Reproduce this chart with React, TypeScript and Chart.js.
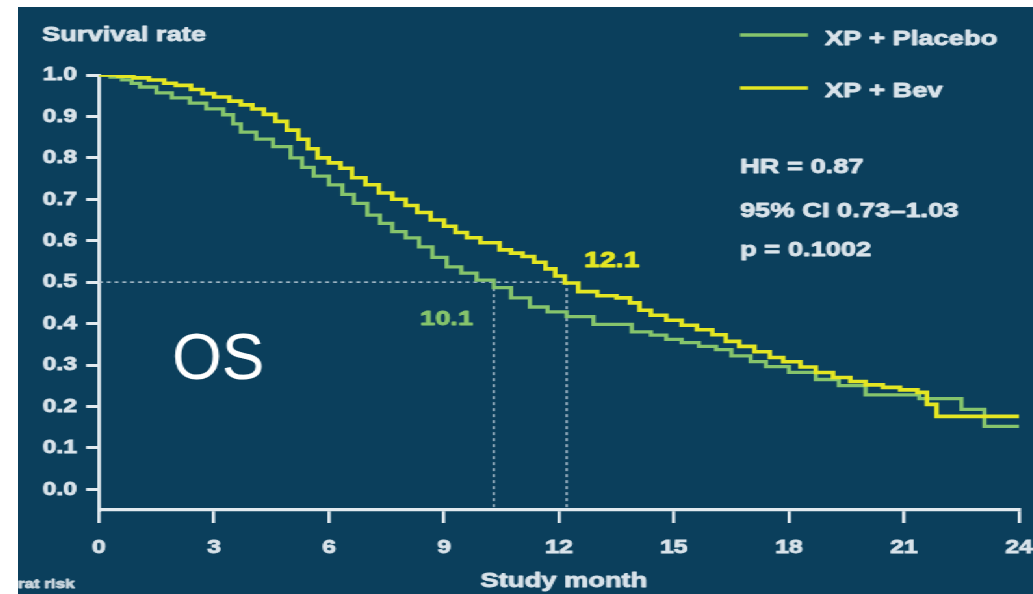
import React, { useEffect, useRef } from 'react';
import { Chart, registerables } from 'chart.js';

Chart.register(...registerables);

// ---- Data ----
const seriesNames = ['XP + Placebo', 'XP + Bev'];

const bevMonths = [
  0, 0.5, 0.9, 1.3, 1.7, 2.0, 2.4, 2.7, 3.0, 3.4, 3.7, 4.0, 4.3, 4.6, 4.9, 5.2, 5.45, 5.7,
  6.0, 6.3, 6.6, 6.95, 7.3, 7.65, 8.0, 8.3, 8.65, 9.0, 9.3, 9.6, 9.95, 10.45, 10.75, 11.05,
  11.35, 11.65, 11.9, 12.15, 12.5, 13.0, 13.5, 13.85, 14.1, 14.4, 14.8, 15.2, 15.6, 16.0,
  16.35, 16.7, 17.1, 17.5, 17.85, 18.3, 18.7, 19.15, 19.6, 20.0, 20.45, 20.9, 21.35, 21.6,
  21.85, 24.0,
];
const bevSurvival = [
  1.0, 0.997, 0.993, 0.988, 0.98, 0.975, 0.965, 0.955, 0.947, 0.937, 0.928, 0.918, 0.905,
  0.888, 0.867, 0.845, 0.822, 0.8, 0.788, 0.775, 0.752, 0.735, 0.715, 0.7, 0.685, 0.668,
  0.65, 0.635, 0.62, 0.607, 0.595, 0.578, 0.57, 0.562, 0.548, 0.532, 0.515, 0.498, 0.477,
  0.467, 0.462, 0.45, 0.432, 0.42, 0.408, 0.396, 0.385, 0.373, 0.357, 0.345, 0.332, 0.318,
  0.308, 0.295, 0.282, 0.27, 0.26, 0.252, 0.246, 0.24, 0.234, 0.205, 0.176, 0.176,
];

const placeboMonths = [
  0, 0.3, 0.6, 0.85, 1.07, 1.5, 1.9, 2.37, 2.8, 3.24, 3.5, 3.7, 4.1, 4.54, 5.0, 5.3, 5.6,
  6.0, 6.35, 6.65, 7.0, 7.33, 7.65, 8.0, 8.35, 8.7, 9.07, 9.45, 9.85, 10.3, 10.75, 11.24,
  11.7, 12.2, 12.9, 13.9, 14.4, 14.8, 15.2, 15.65, 16.1, 16.5, 17.0, 17.4, 18.0, 18.7, 19.3,
  20.0, 21.4, 22.5, 23.1, 24.0,
];
const placeboSurvival = [
  1.0, 0.995, 0.988, 0.98, 0.971, 0.957, 0.945, 0.932, 0.918, 0.904, 0.882, 0.862, 0.845,
  0.827, 0.8, 0.777, 0.756, 0.735, 0.712, 0.69, 0.662, 0.642, 0.622, 0.607, 0.585, 0.56,
  0.537, 0.522, 0.505, 0.487, 0.462, 0.44, 0.428, 0.417, 0.398, 0.38, 0.372, 0.362, 0.354,
  0.345, 0.337, 0.322, 0.308, 0.296, 0.282, 0.265, 0.25, 0.228, 0.219, 0.193, 0.152, 0.152,
];

const xTicks = [0, 3, 6, 9, 12, 15, 18, 21, 24];
const yTicks = [0.0, 0.1, 0.2, 0.3, 0.4, 0.5, 0.6, 0.7, 0.8, 0.9, 1.0];
const yMin = -0.05;
const medianLevel = 0.5;
const medianMonths = [10.3, 12.2];
const medianLabels = ['10.1', '12.1'];
const statsLines = ['HR = 0.87', '95% CI 0.73\u20131.03', 'p = 0.1002'];

// ---- Styling ----
const S = 1.3; // horizontal stretch of the original slide
const CW = 781;
const CH = 587;
const BG = '#0b3f5c';
const AX = '#e2eaef';
const TX = '#d9e3ea';
const YELLOW = '#e4e623';
const GREEN = '#86c46c';
const DASH = '#b4c6d2';
const FAMILY = '"Liberation Sans", Arial, Helvetica, sans-serif';

function boldText(ctx: CanvasRenderingContext2D, t: string, x: number, y: number, color: string) {
  ctx.fillStyle = color;
  ctx.strokeStyle = color;
  ctx.lineWidth = 0.9;
  ctx.lineJoin = 'round';
  ctx.strokeText(t, x, y);
  ctx.fillText(t, x, y);
}

const annotationPlugin = {
  id: 'annotations',
  afterDraw(chart: any) {
    const ctx = chart.ctx as CanvasRenderingContext2D;
    ctx.save();
    ctx.textBaseline = 'middle';
    ctx.textAlign = 'left';

    // y title
    ctx.font = `bold 21px ${FAMILY}`;
    boldText(ctx, 'Survival rate', 18.5, 28.5, TX);

    // legend
    const legendColors = [GREEN, YELLOW];
    const legendY = [[28, 32.5], [81, 84]];
    seriesNames.forEach((name, i) => {
      ctx.strokeStyle = legendColors[i];
      ctx.lineWidth = 3.5;
      ctx.beginPath();
      ctx.moveTo(555.4, legendY[i][0]);
      ctx.lineTo(607.7, legendY[i][0]);
      ctx.stroke();
      ctx.font = `bold 21px ${FAMILY}`;
      boldText(ctx, name, 620.8, legendY[i][1], TX);
    });

    // stats
    const statY = [160, 204, 243];
    statsLines.forEach((t, i) => {
      ctx.font = `bold 21px ${FAMILY}`;
      boldText(ctx, t, 555.4, statY[i], TX);
    });

    // median labels
    ctx.font = `bold 22px ${FAMILY}`;
    boldText(ctx, medianLabels[1], 435.4, 254, YELLOW);
    ctx.font = `bold 21px ${FAMILY}`;
    boldText(ctx, medianLabels[0], 309.2, 312, GREEN);

    // x title
    ctx.font = `bold 21px ${FAMILY}`;
    ctx.textAlign = 'center';
    boldText(ctx, 'Study month', 420, 574, TX);

    // at risk fragment
    ctx.textAlign = 'left';
    ctx.font = `bold 13px ${FAMILY}`;
    boldText(ctx, 'rat risk', 0, 577, '#c9d5dd');

    // OS (not stretched)
    ctx.translate(118.5, 354);
    ctx.scale(1 / S, 1);
    ctx.fillStyle = '#ffffff';
    ctx.font = `64px ${FAMILY}`;
    ctx.fillText('OS', 0, 0);
    ctx.restore();
  },
};

export default function App() {
  const ref = useRef<HTMLCanvasElement | null>(null);

  useEffect(() => {
    if (!ref.current) return;
    const bev = bevMonths.map((m, i) => ({ x: m, y: bevSurvival[i] }));
    const placebo = placeboMonths.map((m, i) => ({ x: m, y: placeboSurvival[i] }));
    const hLine = [
      { x: 0, y: medianLevel },
      { x: medianMonths[1], y: medianLevel },
    ];
    const vLines = medianMonths.map((m) => [
      { x: m, y: medianLevel },
      { x: m, y: yMin },
    ]);
    const dashStyle = {
      borderColor: DASH,
      borderWidth: 1.5,
      borderDash: [3, 3],
      pointRadius: 0,
      fill: false,
      stepped: false,
    };
    const tickFont = { family: FAMILY, size: 19, weight: 'bold' };

    const chart = new Chart(ref.current, {
      type: 'line',
      data: {
        datasets: [
          {
            label: seriesNames[1],
            data: bev,
            borderColor: YELLOW,
            borderWidth: 3.6,
            pointRadius: 0,
            stepped: true,
            fill: false,
          },
          {
            label: seriesNames[0],
            data: placebo,
            borderColor: GREEN,
            borderWidth: 3.3,
            pointRadius: 0,
            stepped: true,
            fill: false,
          },
          { label: 'h', data: hLine, ...dashStyle },
          { label: 'v1', data: vLines[0], ...dashStyle },
          { label: 'v2', data: vLines[1], ...dashStyle },
        ],
      },
      options: {
        responsive: false,
        maintainAspectRatio: false,
        animation: false,
        layout: { padding: { left: 0, top: 68, right: CW - 770, bottom: 0 } },
        plugins: {
          legend: { display: false },
          tooltip: { enabled: false },
        },
        scales: {
          x: {
            type: 'linear',
            min: 0,
            max: 24,
            afterBuildTicks: (s: any) => {
              s.ticks = xTicks.map((v) => ({ value: v }));
            },
            afterFit: (s: any) => {
              s.height = CH - 503;
              s.paddingLeft = 0;
              s.paddingRight = 0;
            },
            grid: {
              drawOnChartArea: false,
              drawTicks: true,
              tickLength: 13,
              color: AX,
              lineWidth: 2.6,
            },
            border: { display: true, color: AX, width: 3.2 },
            ticks: {
              color: TX,
              font: tickFont,
              textStrokeColor: TX,
              textStrokeWidth: 0.9,
              padding: 13,
              maxRotation: 0,
              autoSkip: false,
              callback: (v: any) => String(v),
            },
          },
          y: {
            type: 'linear',
            min: yMin,
            max: 1.0,
            afterBuildTicks: (s: any) => {
              s.ticks = yTicks.map((v) => ({ value: v }));
            },
            afterFit: (s: any) => {
              s.width = 62.3;
              s.paddingTop = 0;
              s.paddingBottom = 0;
            },
            grid: {
              drawOnChartArea: false,
              drawTicks: true,
              tickLength: 10,
              color: AX,
              lineWidth: 3,
            },
            border: { display: true, color: AX, width: 2.8 },
            ticks: {
              color: TX,
              font: tickFont,
              textStrokeColor: TX,
              textStrokeWidth: 0.9,
              padding: 7,
              autoSkip: false,
              callback: (v: any) => Number(v).toFixed(1),
            },
          },
        },
      } as any,
      plugins: [annotationPlugin],
    });
    return () => chart.destroy();
  }, []);

  return (
    <div
      style={{
        position: 'absolute',
        left: 0,
        top: 0,
        width: 1033,
        height: 594,
        background: '#ffffff',
        overflow: 'hidden',
      }}
    >
      <div
        style={{
          position: 'absolute',
          left: 18,
          top: 7,
          width: CW,
          height: CH,
          background: BG,
          transform: `scaleX(${S})`,
          transformOrigin: '0 0',
        }}
      >
        <canvas ref={ref} width={CW} height={CH} style={{ display: 'block' }} />
      </div>
    </div>
  );
}
